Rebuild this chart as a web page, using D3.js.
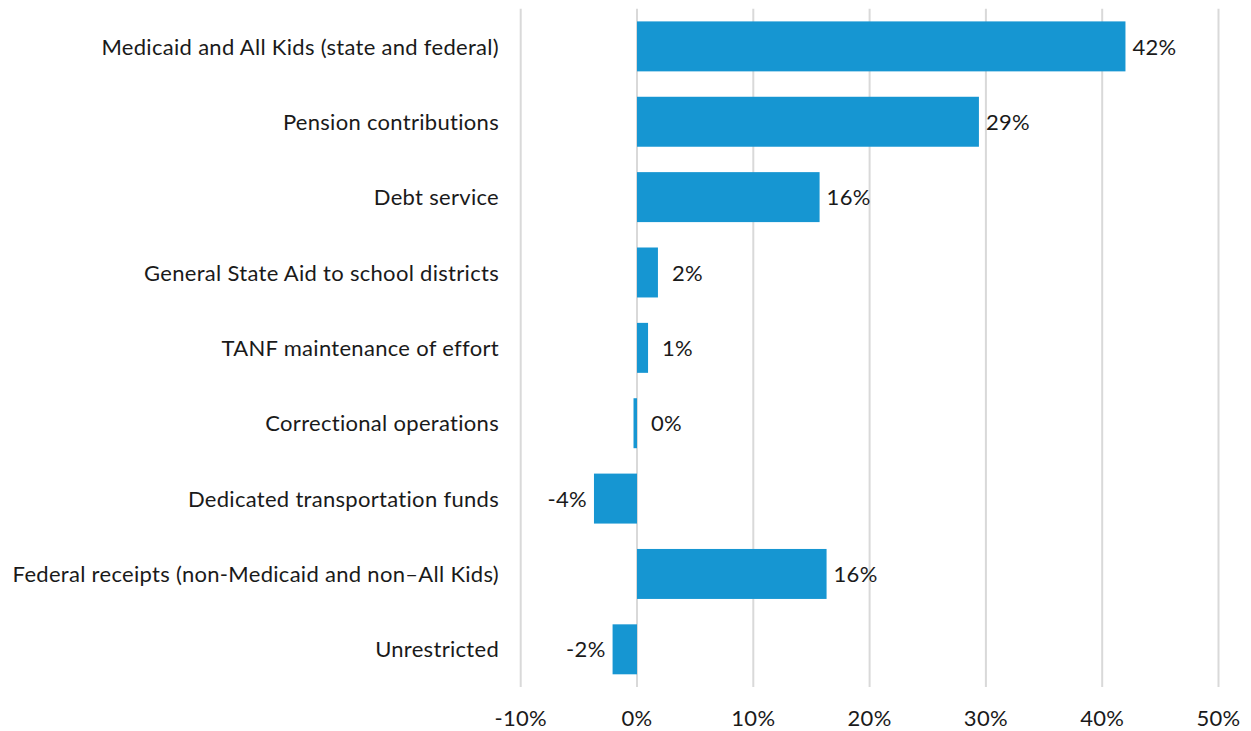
<!DOCTYPE html>
<html>
  <head>
    <title>Spending change by category</title>
    <script src="https://d3js.org/d3.v7.min.js"></script>
    <style>
      body { margin: 0; background: #ffffff; }
      text {
        font-family: Lato, "Noto Sans", sans-serif;
        fill: #1a1a1a;
        font-size: 22px;
        letter-spacing: 0.3px;
        font-variant-ligatures: none;
      }
    </style>
  </head>
  <body>
<script>
  // categories, top to bottom
  var categories = [
    "Medicaid and All Kids (state and federal)",
    "Pension contributions",
    "Debt service",
    "General State Aid to school districts",
    "TANF maintenance of effort",
    "Correctional operations",
    "Dedicated transportation funds",
    "Federal receipts (non-Medicaid and non\u2013All Kids)",
    "Unrestricted"
  ];
  // percent change
  var values = [42.0, 29.4, 15.7, 1.8, 0.95, -0.3, -3.7, 16.3, -2.1];
  var tickValues = [-10, 0, 10, 20, 30, 40, 50];

  var w = 1251, h = 731;
  var svg = d3.select("body").append("svg")
    .attr("width", w)
    .attr("height", h);

  var x = d3.scaleLinear()
    .domain([-10, 50])
    .range([520.7, 1218.5]);

  var y = d3.scaleBand()
    .domain(categories)
    .range([8.7, 687])
    .paddingInner(0.337)
    .paddingOuter(0.1685);

  // gridlines
  svg.append("g").selectAll("line")
    .data(tickValues)
    .enter()
    .append("line")
    .attr("x1", function(d) { return x(d); })
    .attr("x2", function(d) { return x(d); })
    .attr("y1", 8.7)
    .attr("y2", 687)
    .style("stroke", "#d9d9d9")
    .style("stroke-width", 2);

  // x tick labels
  svg.append("g").selectAll("text")
    .data(tickValues)
    .enter()
    .append("text")
    .attr("x", function(d) { return x(d); })
    .attr("y", 726)
    .attr("text-anchor", "middle")
    .text(function(d) { return d + "%"; });

  // bars
  svg.append("g").selectAll("rect")
    .data(values)
    .enter()
    .append("rect")
    .attr("x", function(d) { return x(Math.min(0, d)); })
    .attr("y", function(d, i) { return y(categories[i]); })
    .attr("width", function(d) { return Math.abs(x(d) - x(0)); })
    .attr("height", y.bandwidth())
    .style("fill", "#1696d2");

  // category labels
  svg.append("g").selectAll("text")
    .data(categories)
    .enter()
    .append("text")
    .attr("x", 499)
    .attr("y", function(d) { return y(d) + y.bandwidth() / 2; })
    .attr("dy", "0.37em")
    .attr("text-anchor", "end")
    .text(function(d) { return d; });

  // value labels
  svg.append("g").selectAll("text")
    .data(values)
    .enter()
    .append("text")
    .attr("x", function(d) {
      if (d < -1) return x(d) - 7;
      return x(Math.max(0, d)) + (d < 3 ? 14 : 7);
    })
    .attr("y", function(d, i) { return y(categories[i]) + y.bandwidth() / 2; })
    .attr("dy", "0.37em")
    .attr("text-anchor", function(d) { return d < -1 ? "end" : "start"; })
    .text(function(d) { return Math.round(Math.abs(d) < 0.5 ? 0 : d) + "%"; });
</script>
  </body>
</html>
